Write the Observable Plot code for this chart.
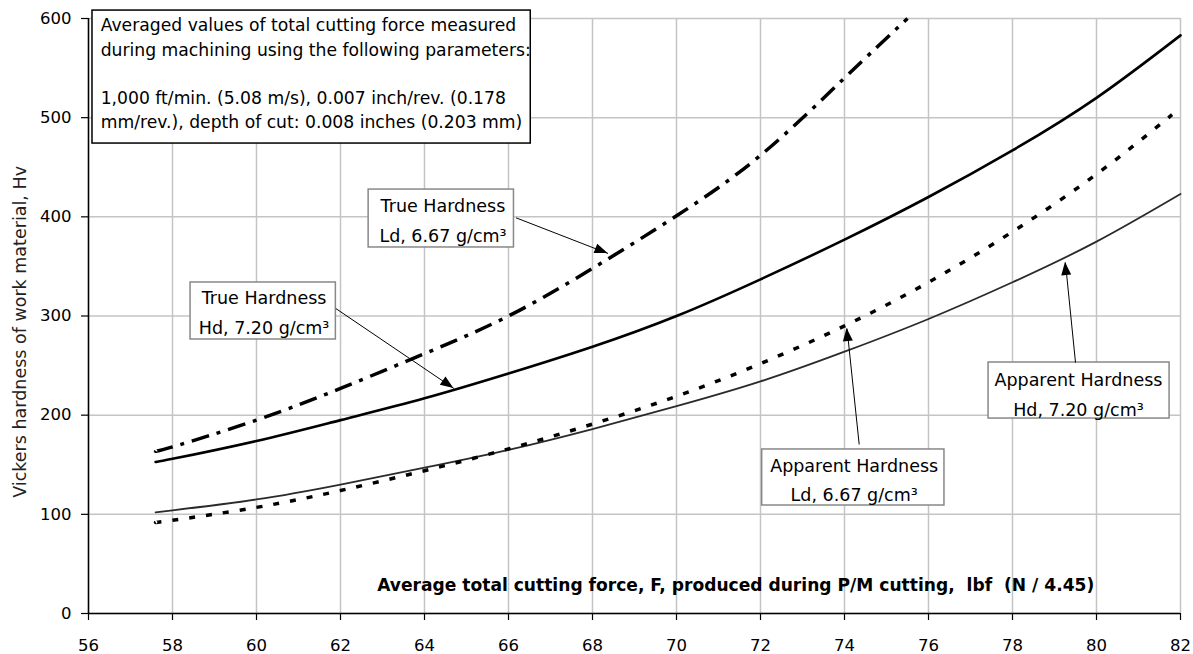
<!DOCTYPE html>
<html>
<head>
<meta charset="utf-8">
<script src="https://cdn.jsdelivr.net/npm/d3@7"></script>
<script src="https://cdn.jsdelivr.net/npm/@observablehq/plot@0.6"></script>
<style>
  html, body { margin: 0; padding: 0; background: white; }
</style>
</head>
<body>
<div id="chart"></div>
<script>
// ---- data ----
const xTicks = [56, 58, 60, 62, 64, 66, 68, 70, 72, 74, 76, 78, 80, 82];
const yTicks = [0, 100, 200, 300, 400, 500, 600];

const forceHd = [57.6, 58, 60, 62, 64, 66, 68, 70, 72, 74, 76, 78, 80, 82];
const trueHd = [153, 156, 174, 195, 217, 242, 269, 300, 337, 377, 420, 467, 520, 583];
const apparentHd = [102, 104, 115, 130, 147, 165, 186, 209, 234, 264, 297, 334, 375, 423];

const forceTrueLd = [57.6, 58, 60, 62, 64, 66, 68, 70, 72, 74, 75.5];
const trueLd = [164, 168, 195, 227, 262, 300, 348, 401, 462, 540, 600];

const forceAppLd = [57.6, 58, 60, 62, 64, 66, 68, 70, 72, 74, 76, 78, 80, 81.8];
const apparentLd = [92, 94, 107, 124, 144, 166, 191, 219, 252, 290, 334, 385, 443, 503];

const noteLines = [
  "Averaged values of total cutting force measured",
  "during machining using the following parameters:",
  "",
  "1,000 ft/min. (5.08 m/s), 0.007 inch/rev. (0.178",
  "mm/rev.), depth of cut: 0.008 inches (0.203 mm)"
];
const labelTexts = [
  "True Hardness\nLd, 6.67 g/cm³",
  "True Hardness\nHd, 7.20 g/cm³",
  "Apparent Hardness\nLd, 6.67 g/cm³",
  "Apparent Hardness\nHd, 7.20 g/cm³"
];
const xTitle = "Average total cutting force, F, produced during P/M cutting,  lbf  (N / 4.45)";
const yTitle = "Vickers hardness of work material, Hv";

// ---- annotation placement (in data units) ----
const labelBoxes = [
  {x1: 62.67, x2: 66.13, y1: 369.1, y2: 427.5, tx: 64.44, ty: 399.3},
  {x1: 58.43, x2: 61.89, y1: 276.3, y2: 333.8, tx: 60.18, ty: 306.5},
  {x1: 72.04, x2: 76.38, y1: 108.9, y2: 165.4, tx: 74.23, ty: 137.6},
  {x1: 77.43, x2: 81.74, y1: 196.6, y2: 253.1, tx: 79.57, ty: 223.9}
].map((d, i) => ({...d, text: labelTexts[i]}));
const arrows = [
  {x1: 66.18, y1: 399.0, x2: 68.37, y2: 363.0},
  {x1: 61.89, y1: 307.5, x2: 64.70, y2: 226.9},
  {x1: 74.35, y1: 170.4, x2: 74.06, y2: 287.4},
  {x1: 79.50, y1: 253.0, x2: 79.26, y2: 354.0}
];
const noteBox = {x1: 56.095, x2: 66.53, y1: 473.9, y2: 608.0, tx: 56.29, ty: 546.0};

const toRows = (xs, ys) => xs.map((x, i) => ({force: x, hv: ys[i]}));

const FONT = "DejaVu Sans";

const chart = Plot.plot({
  width: 1193,
  height: 654,
  marginLeft: 88,
  marginRight: 13,
  marginTop: 18,
  marginBottom: 41,
  style: {fontFamily: FONT, background: "white", color: "black"},
  x: {domain: [56, 82]},
  y: {domain: [0, 600]},
  marks: [
    Plot.gridX({ticks: xTicks, stroke: "#c4c4c4", strokeOpacity: 1, strokeWidth: 1.5}),
    Plot.gridY({ticks: yTicks, stroke: "#c4c4c4", strokeOpacity: 1, strokeWidth: 1.5}),
    Plot.axisX({ticks: xTicks, tickSize: 7, tickPadding: 19, fontSize: 16.5, label: null, stroke: "black", strokeWidth: 1.2, fill: "black"}),
    Plot.axisY({ticks: yTicks, tickSize: 7, tickPadding: 10, fontSize: 16.5, label: null, stroke: "black", strokeWidth: 1.2, fill: "black"}),
    Plot.ruleX([56], {stroke: "black", strokeWidth: 1.5}),
    Plot.ruleY([0], {stroke: "black", strokeWidth: 1.5}),

    // curves
    Plot.line(toRows(forceHd, apparentHd), {x: "force", y: "hv", curve: "natural", stroke: "#2a2a2a", strokeWidth: 1.8}),
    Plot.line(toRows(forceAppLd, apparentLd), {x: "force", y: "hv", curve: "natural", stroke: "black", strokeWidth: 3.5, strokeDasharray: "6,11", strokeLinecap: "butt"}),
    Plot.line(toRows(forceHd, trueHd), {x: "force", y: "hv", curve: "natural", stroke: "black", strokeWidth: 2.6}),
    Plot.line(toRows(forceTrueLd, trueLd), {x: "force", y: "hv", curve: "natural", stroke: "black", strokeWidth: 3.5, strokeDasharray: "18,8,4,8", strokeLinecap: "butt"}),

    // axis titles
    Plot.text([xTitle], {x: 71.41, y: 28.2, text: d => d, fontSize: 17.1, fontWeight: "bold", textAnchor: "middle", fill: "black"}),
    Plot.text([yTitle], {frameAnchor: "left", dx: -68, y: 284, text: d => d, rotate: -90, fontSize: 17.5, textAnchor: "middle", fill: "#222"}),

    // note box
    Plot.rect([noteBox], {x1: "x1", x2: "x2", y1: "y1", y2: "y2", fill: "white", stroke: "black", strokeWidth: 1.5}),
    Plot.text([noteBox], {x: "tx", y: "ty", text: () => noteLines.join("\n"), textAnchor: "start", lineAnchor: "middle", lineHeight: 1.41, fontSize: 17.2, fill: "black"}),

    // label boxes
    Plot.rect(labelBoxes, {x1: "x1", x2: "x2", y1: "y1", y2: "y2", fill: "white", stroke: "#888", strokeWidth: 1.5}),
    Plot.text(labelBoxes, {x: "tx", y: "ty", text: "text", textAnchor: "middle", lineAnchor: "middle", lineHeight: 1.68, fontSize: 17.5, fill: "black"}),

    // arrow shafts
    Plot.link(arrows, {x1: "x1", y1: "y1", x2: "x2", y2: "y2", stroke: "black", strokeWidth: 1})
  ]
});

// filled arrowheads, positioned through the plot's own scales
const svgEl = chart.tagName.toLowerCase() === "svg" ? chart : chart.querySelector("svg");
const sx = chart.scale("x"), sy = chart.scale("y");
const g = d3.select(svgEl).append("g");
arrows.forEach(a => {
  const x1 = sx.apply(a.x1), y1 = sy.apply(a.y1), x2 = sx.apply(a.x2), y2 = sy.apply(a.y2);
  const dx = x2 - x1, dy = y2 - y1, len = Math.hypot(dx, dy);
  const ux = dx / len, uy = dy / len;
  const L = 13, W = 5;
  const bx = x2 - ux * L, by = y2 - uy * L;
  const p = [[x2, y2], [bx - uy * W, by + ux * W], [bx + uy * W, by - ux * W]];
  g.append("path").attr("d", "M" + p.map(q => q.join(",")).join("L") + "Z").attr("fill", "black");
});

document.getElementById("chart").appendChild(chart);
</script>
</body>
</html>
